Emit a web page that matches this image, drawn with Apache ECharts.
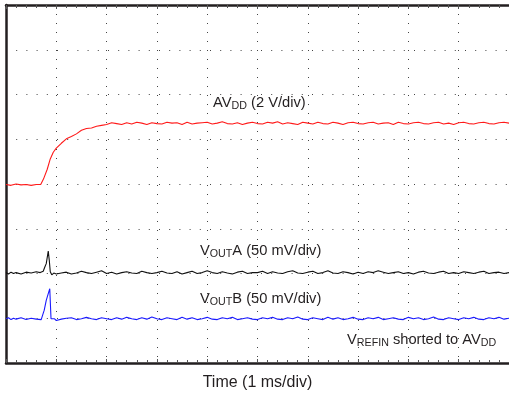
<!DOCTYPE html>
<html><head><meta charset="utf-8">
<script src="https://cdn.jsdelivr.net/npm/echarts@6/dist/echarts.min.js"></script>
<style>html,body{margin:0;padding:0;background:#fff}#c{width:509px;height:396px}</style>
</head><body><div id="c"></div>
<script>
// time in divisions (1 ms/div), values in screen divisions
const tailTime = [1.0,1.1,1.2,1.3,1.4,1.5,1.6,1.7,1.8,1.9,2.0,2.1,2.2,2.3,2.4,2.5,2.6,2.7,2.8,2.9,3.0,3.1,3.2,3.3,3.4,3.5,3.6,3.7,3.8,3.9,4.0,4.1,4.2,4.3,4.4,4.5,4.6,4.7,4.8,4.9,5.0,5.1,5.2,5.3,5.4,5.5,5.6,5.7,5.8,5.9,6.0,6.1,6.2,6.3,6.4,6.5,6.6,6.7,6.8,6.9,7.0,7.1,7.2,7.3,7.4,7.5,7.6,7.7,7.8,7.9,8.0,8.1,8.2,8.3,8.4,8.5,8.6,8.7,8.8,8.9,9.0,9.1,9.2,9.3,9.4,9.5,9.6,9.7,9.8,9.9,10.0];

const avddHeadTime = [0,0.1,0.2,0.3,0.4,0.5,0.6,0.69,0.745,0.82,0.88,0.94];
const avddHeadVal  = [3.99,3.97,4.00,3.98,3.99,3.97,3.99,3.99,4.11,4.33,4.56,4.71];
const avddTailVal = [
4.80,4.91,5.01,5.06,5.12,5.20,5.24,5.25,5.29,5.31,
5.33,5.37,5.35,5.33,5.37,5.34,5.38,5.36,5.33,5.37,
5.35,5.34,5.38,5.36,5.37,5.33,5.38,5.34,5.36,5.37,
5.38,5.34,5.36,5.39,5.35,5.34,5.37,5.33,5.36,5.38,
5.35,5.34,5.38,5.36,5.39,5.34,5.37,5.35,5.33,5.38,
5.36,5.34,5.38,5.35,5.34,5.38,5.36,5.33,5.37,5.38,
5.35,5.34,5.37,5.38,5.34,5.36,5.37,5.33,5.38,5.35,
5.34,5.37,5.38,5.35,5.34,5.37,5.38,5.34,5.36,5.33,
5.37,5.38,5.35,5.34,5.37,5.38,5.35,5.34,5.37,5.38,5.36];

const voutAHeadTime = [0,0.05,0.1,0.15,0.2,0.3,0.4,0.5,0.6,0.68,0.74,0.77,0.80,0.84,0.86,0.88,0.91,0.95];
const voutAHeadVal  = [2.02,1.99,2.03,2.00,2.02,1.99,2.03,2.01,2.04,2.02,2.05,2.14,2.22,2.50,2.30,2.04,1.97,2.01];
const voutATailVal = [
1.99,2.01,2.03,1.99,2.01,2.05,2.02,2.00,2.03,2.06,
2.00,2.03,1.99,2.02,2.04,2.01,2.00,2.05,2.02,2.00,
2.02,2.05,2.01,2.00,2.04,1.99,2.02,2.05,2.00,2.02,
2.06,2.02,2.00,2.04,2.01,1.99,2.03,2.05,2.00,2.02,
2.02,2.05,2.00,2.04,2.01,2.00,2.04,2.06,2.01,2.00,
2.03,2.05,2.00,2.02,2.06,2.01,2.00,2.04,2.02,1.99,
2.03,2.00,2.04,2.02,2.06,2.03,2.00,2.02,2.04,2.00,
2.02,1.99,2.03,2.05,2.01,2.00,2.03,2.05,2.00,2.02,
2.00,2.04,2.02,2.00,2.03,2.05,2.00,2.02,2.03,2.00,2.02];

const voutBHeadTime = [0,0.05,0.1,0.15,0.2,0.3,0.4,0.5,0.6,0.7,0.72,0.76,0.80,0.84,0.87,0.88,0.895,0.93,0.96];
const voutBHeadVal  = [0.99,1.01,0.97,1.00,0.98,1.01,0.97,1.00,0.98,0.97,0.99,1.18,1.40,1.55,1.66,1.70,0.99,0.96,0.99];
const voutBTailVal = [
0.95,0.98,1.00,1.01,0.97,0.99,1.02,0.99,0.97,1.01,
0.99,0.97,1.01,0.98,1.02,0.99,0.97,1.01,0.98,1.03,
0.99,0.97,1.01,0.99,0.97,1.02,0.98,1.01,0.97,0.99,
1.02,0.98,0.97,1.01,0.99,1.02,0.97,0.99,1.01,0.98,
0.97,1.01,0.99,1.02,0.98,0.97,1.01,0.99,1.03,0.98,
0.97,1.01,0.99,0.97,1.02,0.98,1.01,0.97,0.99,1.02,
0.98,0.97,1.01,0.99,1.02,0.97,0.99,1.01,0.98,0.97,
1.02,0.99,1.01,0.97,0.99,1.03,0.98,0.97,1.01,0.99,
0.97,1.01,0.99,1.02,0.98,0.97,1.01,0.99,1.02,0.98,1.00];

const xTitle = 'Time (1 ms/div)';

function pairs(t, v) { return t.map((x, i) => [x, v[i]]); }
function trace(ht, hv, tv) { return pairs(ht, hv).concat(pairs(tailTime, tv)); }

const FONT = '"Liberation Sans", Arial, sans-serif';
const TXT = '#231f20';
const mainStyle = { fontSize: 14.7, lineHeight: 18, fontFamily: FONT, fill: TXT };
const subStyle = { fontSize: 10.7, lineHeight: 10, verticalAlign: 'bottom', fontFamily: FONT, fill: TXT };
function label(x, y, text) {
  return {
    type: 'text', x: x, y: y, silent: true,
    style: {
      text: text, fontFamily: FONT, fontSize: 14.7, fill: TXT,
      verticalAlign: 'top', align: 'left',
      rich: { m: mainStyle, s: subStyle }
    }
  };
}

const chart = echarts.init(document.getElementById('c'), null, { renderer: 'canvas' });
const axisLineStyle = { color: '#231f20', width: 2.5 };
chart.setOption({
  animation: false,
  backgroundColor: '#fff',
  grid: { left: 6, right: -6, top: 5, bottom: 31, containLabel: false },
  xAxis: [{
    type: 'value', min: 0, max: 10, interval: 1, position: 'bottom',
    name: xTitle, nameLocation: 'middle', nameGap: 12,
    nameTextStyle: { fontSize: 16, fontFamily: FONT, color: TXT },
    axisLine: { show: true, onZero: false, lineStyle: axisLineStyle },
    axisTick: { show: true, inside: true, length: 4, lineStyle: { color: '#555' } },
    minorTick: { show: true, splitNumber: 5, length: 3, lineStyle: { color: '#555' } },
    axisLabel: { show: false },
    splitLine: { show: true, lineStyle: { color: '#444', width: 1, type: [1, 8] } }
  }, {
    type: 'value', min: 0, max: 10, interval: 1, position: 'top',
    axisLine: { show: true, onZero: false, lineStyle: axisLineStyle },
    axisTick: { show: true, inside: true, length: 4, lineStyle: { color: '#555' } },
    minorTick: { show: true, splitNumber: 5, length: 3, lineStyle: { color: '#555' } },
    axisLabel: { show: false },
    splitLine: { show: false }
  }],
  yAxis: {
    type: 'value', min: 0, max: 8, interval: 1,
    axisLine: { show: true, onZero: false, lineStyle: axisLineStyle },
    axisTick: { show: false },
    axisLabel: { show: false },
    splitLine: { show: true, lineStyle: { color: '#444', width: 1, type: [1, 9.2] } }
  },
  series: [
    { name: 'AVDD', type: 'line', showSymbol: false, data: trace(avddHeadTime, avddHeadVal, avddTailVal),
      lineStyle: { color: '#ff1a1a', width: 1.1 }, itemStyle: { color: '#ff1a1a' }, z: 3 },
    { name: 'VOUTA', type: 'line', showSymbol: false, data: trace(voutAHeadTime, voutAHeadVal, voutATailVal),
      lineStyle: { color: '#111', width: 1.1 }, itemStyle: { color: '#111' }, z: 3 },
    { name: 'VOUTB', type: 'line', showSymbol: false, data: trace(voutBHeadTime, voutBHeadVal, voutBTailVal),
      lineStyle: { color: '#1a1aff', width: 1.1 }, itemStyle: { color: '#1a1aff' }, z: 3 }
  ],
  graphic: [
    label(213, 94, '{m|AV}{s|DD}{m| (2 V/div)}'),
    label(200, 242, '{m|V}{s|OUT}{m|A (50 mV/div)}'),
    label(200, 290, '{m|V}{s|OUT}{m|B (50 mV/div)}'),
    label(347, 331, '{m|V}{s|REFIN}{m| shorted to AV}{s|DD}')
  ]
});
</script></body></html>
